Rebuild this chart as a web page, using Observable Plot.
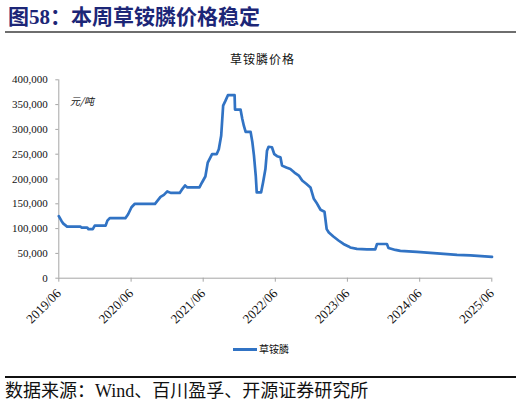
<!DOCTYPE html>
<html>
<head>
<meta charset="utf-8">
<script src="https://cdn.jsdelivr.net/npm/d3@7"></script>
<script src="https://cdn.jsdelivr.net/npm/@observablehq/plot@0.6"></script>
<style>
  html, body { margin: 0; padding: 0; background: #fff; }
  #wrap { position: relative; width: 521px; height: 406px; overflow: hidden; background: #fff; }
  .abs { position: absolute; white-space: nowrap; }
  #title { left: 8px; top: 4px; font-family: "Liberation Serif", "Noto Sans CJK SC", serif; font-weight: bold; font-size: 21px; color: #1c2677; line-height: 26px; }
  #rule1 { left: 5px; top: 31px; width: 511px; height: 2px; background: #6e6e6e; }
  #ctitle { left: 0; width: 521px; text-align: center; top: 51px; font-family: "Noto Sans CJK SC", serif; font-size: 12px; letter-spacing: 1px; color: #111; line-height: 16px; padding-left: 2px;}
  #unit { left: 70px; top: 94px; font-family: "Noto Sans CJK SC", serif; font-size: 10px; font-style: italic; color: #111; line-height: 14px; }
  #chart { left: 0; top: 40px; }
  #legend { left: 233px; top: 342px; font-family: "Noto Sans CJK SC", serif; font-size: 10px; color: #111; line-height: 14px; display: flex; align-items: center; }
  #legend .sw { width: 24px; height: 3px; background: #3173c4; margin-right: 2px; }
  #rule2 { left: 5px; top: 376px; width: 511px; height: 1.5px; background: #111; }
  #foot { left: 5px; top: 380px; font-family: "Liberation Serif", "Noto Sans CJK SC", serif; font-size: 18px; color: #111; line-height: 22px; }
</style>
</head>
<body>
<div id="wrap">
  <div id="title" class="abs">图58：本周草铵膦价格稳定</div>
  <div id="rule1" class="abs"></div>
  <div id="ctitle" class="abs">草铵膦价格</div>
  <div id="chart" class="abs"></div>
  <div id="unit" class="abs">元/吨</div>
  <div id="legend" class="abs"><span class="sw"></span><span>草铵膦</span></div>
  <div id="rule2" class="abs"></div>
  <div id="foot" class="abs">数据来源：Wind、百川盈孚、开源证券研究所</div>
</div>
<script>
const seriesName = "草铵膦";
const dates = [
  "2019-06-01","2019-06-14","2019-06-24","2019-07-13","2019-09-19","2019-09-24","2019-10-23","2019-10-29",
  "2019-11-20","2019-11-30","2020-01-24","2020-02-02","2020-02-14","2020-05-03","2020-05-17","2020-06-03",
  "2020-06-20","2020-09-30","2020-10-12","2020-10-28","2020-11-14","2020-12-01","2020-12-18","2021-02-02",
  "2021-02-12","2021-03-01","2021-03-13","2021-05-13","2021-05-26","2021-06-09","2021-06-12","2021-06-24",
  "2021-07-16","2021-08-08","2021-08-19","2021-08-31","2021-09-10","2021-09-22","2021-10-04","2021-11-07",
  "2021-11-09","2021-12-07","2021-12-16","2021-12-24","2022-01-02","2022-01-27","2022-02-05","2022-02-13",
  "2022-02-22","2022-02-27","2022-03-21","2022-03-31","2022-04-12","2022-04-20","2022-04-28","2022-05-15",
  "2022-05-27","2022-06-10","2022-06-27","2022-07-05","2022-07-27","2022-08-16","2022-09-06","2022-09-28",
  "2022-10-15","2022-11-06","2022-11-26","2022-12-13","2022-12-30","2023-01-16","2023-02-05","2023-02-16",
  "2023-02-27","2023-03-22","2023-04-17","2023-05-12","2023-06-07","2023-06-15","2023-07-19","2023-09-08",
  "2023-10-20","2023-10-29","2023-12-18","2023-12-26","2024-01-30","2024-02-24","2024-05-18","2024-08-28",
  "2024-12-07","2025-02-13","2025-06-02"
];
const prices = [
  125000,116000,110000,104000,104000,102000,102000,99000,
  99000,106000,106000,116000,121000,121000,129000,143000,
  150000,150000,156000,164000,168000,175000,172000,172000,
  178000,187000,183000,183000,193000,203000,205000,233000,
  250000,250000,260000,287000,348000,358000,369000,369000,
  340000,340000,321000,307000,295000,295000,274000,247000,
  207000,173000,173000,193000,220000,257000,265000,264000,
  250000,246000,244000,227000,223000,220000,213000,207000,
  197000,190000,183000,160000,150000,138000,134000,99000,
  92000,84000,76000,69000,64000,62000,59000,58000,
  58000,69000,69000,61000,57000,55000,53000,50000,
  47000,46000,43000
];
const xTickDates = ["2019-06-01","2020-06-01","2021-06-01","2022-06-01","2023-06-01","2024-06-01","2025-06-01"];
const xTickLabels = ["2019/06","2020/06","2021/06","2022/06","2023/06","2024/06","2025/06"];
const yTicks = [0,50000,100000,150000,200000,250000,300000,350000,400000];

const data = dates.map((d, i) => ({date: new Date(d + "T00:00:00Z"), value: prices[i], series: seriesName}));
const xTicks = xTickDates.map(d => new Date(d + "T00:00:00Z"));
const labelOf = new Map(xTicks.map((t, i) => [+t, xTickLabels[i]]));

const axisColor = "#a6a6a6";
const chart = Plot.plot({
  width: 521,
  height: 300,
  marginLeft: 58.3,
  marginRight: 29.7,
  marginTop: 39.3,
  marginBottom: 62.3,
  style: {fontFamily: "'Liberation Serif', 'Noto Sans CJK SC', serif", fontSize: "11px", color: "#111", background: "transparent", overflow: "visible"},
  x: {type: "utc", domain: [xTicks[0], xTicks[xTicks.length - 1]]},
  y: {domain: [0, 400000]},
  marks: [
    Plot.ruleY([0], {stroke: axisColor, strokeWidth: 1}),
    Plot.ruleX([xTicks[0]], {stroke: axisColor, strokeWidth: 1}),
    Plot.axisY({ticks: yTicks, tickFormat: d3.format(","), tickSize: 3, tickPadding: 8, stroke: axisColor, label: null, fontSize: 11}),
    Plot.axisX({ticks: xTicks, tickFormat: d => labelOf.get(+d), tickRotate: -45, tickSize: 4, tickPadding: 9, stroke: axisColor, label: null, fontSize: 13}),
    Plot.line(data, {x: "date", y: "value", stroke: "#3173c4", strokeWidth: 2.7, strokeLinejoin: "round"})
  ]
});
document.getElementById("chart").appendChild(chart);
</script>
</body>
</html>
